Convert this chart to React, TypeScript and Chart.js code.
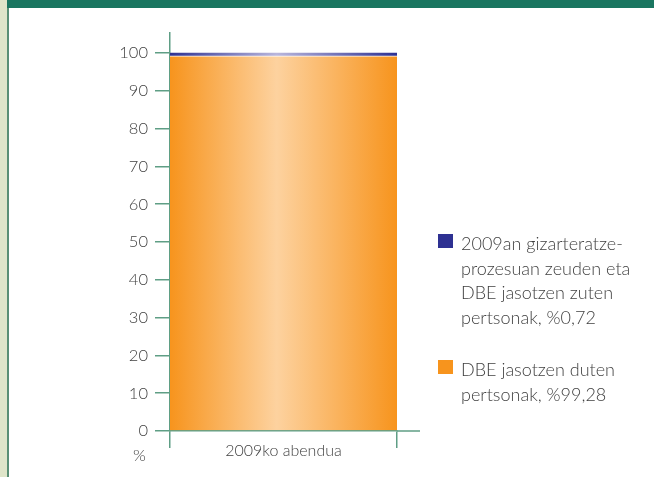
import React, { useEffect, useRef } from "react";
import { Chart, registerables } from "chart.js";

Chart.register(...registerables);

const categories = ["2009ko abendua"];
const orangeValues = [99.28];
const blueValues = [0.72];
const seriesLabels = [
  ["2009an gizarteratze-", "prozesuan zeuden eta", "DBE jasotzen zuten", "pertsonak, %0,72"],
  ["DBE jasotzen duten", "pertsonak, %99,28"],
];
const yTicks = [0, 10, 20, 30, 40, 50, 60, 70, 80, 90, 100];

const GREEN = "#5f9e85";
const FONT = "Lato, 'Open Sans', sans-serif";

export default function App() {
  const ref = useRef<HTMLCanvasElement | null>(null);

  useEffect(() => {
    document.body.style.margin = "0";
    const canvas = ref.current;
    if (!canvas) return;

    const grad = (chart: any, c1: string, c2: string) => {
      const area = chart.chartArea;
      if (!area) return c1;
      const g = chart.ctx.createLinearGradient(area.left, 0, area.right, 0);
      g.addColorStop(0, c1);
      g.addColorStop(0.47, c2);
      g.addColorStop(1, c1);
      return g;
    };

    const extendAxis = {
      id: "extendAxis",
      afterDraw(chart: any) {
        const { ctx, chartArea, scales } = chart;
        const y0 = scales.y.getPixelForValue(0);
        ctx.save();
        ctx.strokeStyle = GREEN;
        ctx.lineWidth = 1.5;
        ctx.beginPath();
        ctx.moveTo(chartArea.right, y0);
        ctx.lineTo(chartArea.right + 23, y0);
        ctx.stroke();
        ctx.restore();
      },
    };

    const chart = new Chart(canvas, {
      type: "bar",
      data: {
        labels: categories,
        datasets: [
          {
            label: seriesLabels[1].join(" "),
            data: orangeValues,
            backgroundColor: (ctx: any) => grad(ctx.chart, "#f7941d", "#fdd29f"),
            borderColor: "#ffffff",
            borderWidth: { top: 1, left: 0, right: 0, bottom: 0 },
            borderSkipped: false,
            barPercentage: 1,
            categoryPercentage: 1,
          },
          {
            label: seriesLabels[0].join(" "),
            data: blueValues,
            backgroundColor: (ctx: any) => grad(ctx.chart, "#2e3192", "#b9b6dc"),
            borderWidth: 0,
            barPercentage: 1,
            categoryPercentage: 1,
          },
        ],
      },
      options: {
        animation: false,
        responsive: false,
        maintainAspectRatio: false,
        layout: { padding: { left: 100, right: 257, top: 33, bottom: 0 } },
        plugins: { legend: { display: false }, tooltip: { enabled: false } },
        scales: {
          x: {
            stacked: true,
            offset: true,
            afterFit: (s: any) => {
              s.height = 46;
            },
            grid: {
              offset: true,
              drawOnChartArea: false,
              drawTicks: true,
              tickLength: 17,
              color: GREEN,
              lineWidth: 1.5,
            },
            border: { display: true, color: GREEN, width: 1.5 },
            ticks: {
              padding: -7,
              color: "#3f3f3f",
              font: { family: FONT, size: 16, weight: "300" },
            },
          },
          y: {
            stacked: true,
            min: 0,
            max: 105.3,
            afterFit: (s: any) => {
              s.width = 70;
            },
            afterBuildTicks: (s: any) => {
              s.ticks = yTicks.map((v) => ({ value: v }));
            },
            grid: {
              drawOnChartArea: false,
              tickLength: 15,
              color: GREEN,
              lineWidth: 1.5,
            },
            border: { display: true, color: GREEN, width: 1.5 },
            ticks: {
              padding: 7,
              color: "#3f3f3f",
              font: { family: FONT, size: 16.5, weight: "300" },
            },
          },
        },
      },
      plugins: [extendAxis],
    });
    return () => chart.destroy();
  }, []);

  const legendColors = ["#2e3192", "#f7941d"];
  const legendTops = [231, 357];

  return (
    <div style={{ position: "relative", width: 654, height: 477, background: "#fff", overflow: "hidden", fontFamily: FONT, fontWeight: 300 }}>
      <div style={{ position: "absolute", left: 0, top: 0, width: 7, height: 477, background: "#dfe5c9" }} />
      <div style={{ position: "absolute", left: 7, top: 0, width: 2, height: 477, background: "#5a8f74" }} />
      <div style={{ position: "absolute", left: 7, top: 0, width: 647, height: 8, background: "#1a7660" }} />
      <canvas ref={ref} width={654} height={477} style={{ position: "absolute", left: 0, top: 0 }} />
      <div style={{ position: "absolute", left: 133, top: 445, fontSize: 16.5, color: "#3f3f3f" }}>%</div>
      {seriesLabels.map((lines, i) => (
        <div key={i} style={{ position: "absolute", left: 438, top: legendTops[i], display: "flex" }}>
          <div style={{ width: 15, height: 14, background: legendColors[i], marginTop: 3, marginRight: 8 }} />
          <div style={{ fontSize: 18, lineHeight: "24.5px", color: "#3f3f3f" }}>
            {lines.map((l, j) => (
              <div key={j}>{l}</div>
            ))}
          </div>
        </div>
      ))}
    </div>
  );
}
